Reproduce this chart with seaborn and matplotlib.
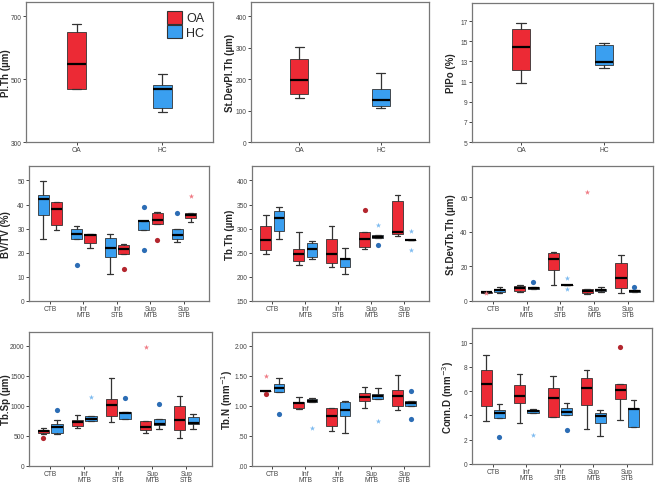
import numpy as np
import matplotlib
matplotlib.use("Agg")
import matplotlib.pyplot as plt
import seaborn as sns
from matplotlib.patches import Patch
from matplotlib.ticker import FuncFormatter

RED = "#ec2a35"
BLUE = "#3a9ff0"
RED_DOT = "#b3262e"
BLUE_DOT = "#2c6db5"
RED_STAR = "#f07a84"
BLUE_STAR = "#7dbbf0"

# stats per box: [whislo, q1, median, q3, whishi]
TWO_GROUPS = ["OA", "HC"]
PLTH_OA = [470, 470, 548, 651, 676]
PLTH_HC = [396, 408, 468, 481, 515]
STDEVPLTH_OA = [139, 151, 198, 264, 302]
STDEVPLTH_HC = [109, 116, 135, 170, 218]
PLPO_OA = [10.9, 12.1, 14.4, 16.2, 16.8]
PLPO_HC = [12.35, 12.6, 12.95, 14.6, 14.8]

SITES = ["CTB", "Inf\nMTB", "Inf\nSTB", "Sup\nMTB", "Sup\nSTB"]

BVTV_OA = [[29.3, 31.5, 38.0, 41.0, 41.2], [22.1, 24.2, 27.2, 28.0, 28.0],
           [19.7, 19.7, 21.4, 23.1, 23.6], [31.8, 31.8, 33.4, 36.6, 36.9],
           [32.7, 34.5, 35.5, 36.6, 36.6]]
BVTV_HC = [[25.8, 35.5, 42.5, 43.8, 49.7], [25.6, 25.6, 27.6, 29.7, 31.1],
           [11.1, 18.2, 22.1, 26.0, 27.6], [29.4, 29.4, 33.1, 33.1, 33.1],
           [24.4, 25.8, 27.2, 29.7, 29.7]]
BVTV_OA_OUT = [[], [], [13.1], [25.1], []]
BVTV_HC_OUT = [[], [14.8], [], [39.2, 21.3], [36.6]]
BVTV_OA_EXT = [[], [], [], [], [43.5]]
BVTV_HC_EXT = [[], [], [], [], []]

TBTH_OA = [[246.7, 255.7, 275.7, 305.4, 327.5], [224.6, 232.9, 248.0, 258.4, 293.0],
           [221.1, 228.0, 246.7, 279.1, 305.4], [257.0, 262.6, 277.8, 293.0, 293.0],
           [285.0, 288.0, 293.0, 357.0, 369.6]]
TBTH_HC = [[277.8, 295.7, 321.3, 336.5, 345.4], [236.3, 241.8, 258.4, 269.5, 274.3],
           [205.3, 221.1, 236.3, 239.8, 260.5], [280.0, 280.0, 283.5, 286.5, 286.5],
           [276.0, 276.0, 276.5, 277.0, 277.0]]
TBTH_OA_OUT = [[], [], [], [338.5], []]
TBTH_HC_OUT = [[], [], [], [265.3], []]
TBTH_OA_EXT = [[], [], [], [], []]
TBTH_HC_EXT = [[], [], [], [306.8], [296.0, 255.0]]

SDTBTH_OA = [[4.8, 4.8, 5.1, 5.4, 5.4], [5.4, 5.8, 7.7, 8.7, 9.3],
             [9.1, 17.8, 24.4, 27.7, 28.4], [4.3, 4.8, 5.6, 7.2, 7.2],
             [4.8, 7.7, 13.4, 21.9, 26.7]]
SDTBTH_HC = [[4.8, 5.4, 6.4, 7.2, 8.1], [6.8, 6.8, 7.7, 8.1, 8.1],
             [9.3, 9.3, 9.3, 9.3, 9.3], [5.4, 5.8, 6.4, 7.2, 8.1],
             [5.4, 5.4, 5.8, 6.4, 6.4]]
SDTBTH_OA_OUT = [[], [], [], [], []]
SDTBTH_HC_OUT = [[], [11.0], [], [], [8.1]]
SDTBTH_OA_EXT = [[4.6], [], [], [62.9], []]
SDTBTH_HC_EXT = [[], [], [13.5, 7.2], [], []]

TBSP_OA = [[539, 556, 578, 594, 633], [633, 661, 728, 761, 844],
           [739, 839, 1011, 1122, 1461], [550, 606, 650, 750, 750],
           [467, 594, 761, 1006, 1161]]
TBSP_HC = [[528, 556, 650, 706, 761], [744, 744, 789, 833, 833],
           [778, 778, 889, 894, 894], [617, 678, 694, 789, 789],
           [617, 694, 717, 817, 872]]
TBSP_OA_OUT = [[472], [], [], [], []]
TBSP_HC_OUT = [[928], [], [1128], [1039], []]
TBSP_OA_EXT = [[], [], [], [1983], []]
TBSP_HC_EXT = [[], [1150], [], [], []]

TBN_OA = [[1.24, 1.24, 1.25, 1.25, 1.25], [0.956, 0.972, 1.05, 1.067, 1.15],
          [0.578, 0.661, 0.828, 0.972, 0.972], [0.972, 1.078, 1.15, 1.217, 1.32],
          [0.939, 0.994, 1.167, 1.261, 1.511]]
TBN_HC = [[1.239, 1.239, 1.30, 1.361, 1.472], [1.072, 1.072, 1.083, 1.111, 1.139],
          [0.55, 0.833, 0.939, 1.061, 1.083], [1.122, 1.122, 1.167, 1.194, 1.294],
          [0.994, 0.994, 1.05, 1.083, 1.083]]
TBN_OA_OUT = [[1.194], [], [], [], []]
TBN_HC_OUT = [[0.872], [], [], [], [1.25, 0.778]]
TBN_OA_EXT = [[1.494], [], [], [], []]
TBN_HC_EXT = [[], [0.633], [], [0.744], []]

CONND_OA = [[3.58, 4.74, 6.61, 7.71, 8.95], [3.39, 5.04, 5.59, 6.53, 7.44],
            [3.91, 3.91, 5.43, 6.25, 7.25], [2.89, 4.88, 6.25, 7.08, 7.71],
            [3.66, 5.37, 6.12, 6.58, 6.58]]
CONND_HC = [[3.77, 3.77, 4.21, 4.41, 4.96], [4.21, 4.21, 4.33, 4.41, 4.55],
            [4.05, 4.05, 4.27, 4.60, 5.04], [2.29, 3.39, 3.94, 4.21, 4.41],
            [3.03, 3.03, 4.49, 4.60, 5.23]]
CONND_OA_OUT = [[], [], [], [], [9.61]]
CONND_HC_OUT = [[2.26], [], [2.76], [], []]
CONND_OA_EXT = [[], [], [], [], []]
CONND_HC_EXT = [[], [2.40], [], [], []]

W, H = 658, 485


def pix_axes(fig, l, t, r, b, label_x):
    ax = fig.add_axes([l / W, 1 - b / H, (r - l) / W, (b - t) / H])
    # y label anchored (by its right edge) at a fixed pixel column
    ax.yaxis.set_label_coords((label_x - l) / (r - l), 0.5)
    return ax


def draw_box(ax, pos, s, color, width):
    st = dict(whislo=s[0], q1=s[1], med=s[2], q3=s[3], whishi=s[4], fliers=[])
    ax.bxp([st], positions=[pos], widths=width, patch_artist=True,
           showfliers=False, manage_ticks=False,
           boxprops=dict(facecolor=color, edgecolor="#333333", linewidth=0.6),
           medianprops=dict(color="black", linewidth=1.6),
           whiskerprops=dict(color="#333333", linewidth=0.9),
           capprops=dict(color="#333333", linewidth=0.9),
           capwidths=width * 0.5)


def draw_outliers(ax, pos, out, ext, dot, star):
    if out:
        ax.scatter([pos] * len(out), out, s=14, marker="o", color=dot,
                   linewidths=0, zorder=5)
    if ext:
        ax.scatter([pos] * len(ext), ext, s=16, marker="*", color=star,
                   linewidths=0, zorder=5)


def style_axes(ax, ylim, yticks, ylabel, xlim, xticks, xlabels, fmt=None):
    ax.set_xlim(*xlim)
    ax.set_ylim(*ylim)
    ax.set_yticks(yticks)
    if fmt is not None:
        ax.yaxis.set_major_formatter(FuncFormatter(fmt))
    ax.set_xticks(xticks)
    ax.set_xticklabels(xlabels, fontsize=4.8, color="#444444", linespacing=0.8)
    ax.tick_params(axis="y", labelsize=4.8, labelcolor="#444444", length=2.5,
                   width=0.6, direction="out", left=True, pad=0.6)
    ax.tick_params(axis="x", length=2.2, width=0.6, direction="out",
                   bottom=True, pad=0.6)
    ax.set_ylabel(ylabel, fontsize=7, fontweight="bold")
    for sp in ax.spines.values():
        sp.set_color("#777777")
        sp.set_linewidth(0.9)


def two_group_panel(ax, oa, hc, ylim, yticks, ylabel):
    draw_box(ax, 1, oa, RED, 0.22)
    draw_box(ax, 2, hc, BLUE, 0.22)
    style_axes(ax, ylim, yticks, ylabel, (0.41, 2.59), [1, 2], TWO_GROUPS)


def site_panel(ax, first, second, ylim, yticks, ylabel, fmt=None):
    # first/second: (stats, circles, asterisks, colour, dot, star)
    for off, (stats, out, ext, col, dot, star) in zip((-0.2, 0.2), (first, second)):
        for i in range(len(SITES)):
            draw_box(ax, i + off, stats[i], col, 0.33)
            draw_outliers(ax, i + off, out[i], ext[i], dot, star)
    style_axes(ax, ylim, yticks, ylabel, (-0.62, 4.75),
               range(len(SITES)), SITES, fmt)


sns.set_style("white")
plt.rcParams["font.family"] = ["Liberation Sans", "DejaVu Sans"]

fig = plt.figure(figsize=(6.58, 4.85), dpi=100)

ax1 = pix_axes(fig, 26, 3, 213, 143, 11)
two_group_panel(ax1, PLTH_OA, PLTH_HC, (300, 745), [300, 500, 700], "Pl.Th (µm)")
ax1.legend(handles=[Patch(facecolor=RED, edgecolor="#333333", lw=0.8, label="OA"),
                    Patch(facecolor=BLUE, edgecolor="#333333", lw=0.8, label="HC")],
           loc="upper right", frameon=False, fontsize=9, handlelength=1.2,
           handleheight=1.2, handletextpad=0.3, labelspacing=0.05,
           borderaxespad=0.3)

ax2 = pix_axes(fig, 251, 3, 429, 143, 235)
two_group_panel(ax2, STDEVPLTH_OA, STDEVPLTH_HC, (0, 445), [0, 100, 200, 300, 400],
                "St.DevPl.Th (µm)")

ax3 = pix_axes(fig, 472, 4, 653, 143, 456)
two_group_panel(ax3, PLPO_OA, PLPO_HC, (5, 18.8), [5, 7, 9, 11, 13, 15, 17], "PlPo (%)")

ax4 = pix_axes(fig, 29, 167, 209, 302, 11)
site_panel(ax4, (BVTV_HC, BVTV_HC_OUT, BVTV_HC_EXT, BLUE, BLUE_DOT, BLUE_STAR),
           (BVTV_OA, BVTV_OA_OUT, BVTV_OA_EXT, RED, RED_DOT, RED_STAR),
           (0, 56), [0, 10, 20, 30, 40, 50], "BV/TV (%)")

ax5 = pix_axes(fig, 252, 167, 429, 302, 235)
site_panel(ax5, (TBTH_OA, TBTH_OA_OUT, TBTH_OA_EXT, RED, RED_DOT, RED_STAR),
           (TBTH_HC, TBTH_HC_OUT, TBTH_HC_EXT, BLUE, BLUE_DOT, BLUE_STAR),
           (150, 430), [150, 200, 250, 300, 350, 400], "Tb.Th (µm)")

ax6 = pix_axes(fig, 472, 167, 653, 302, 456)
site_panel(ax6, (SDTBTH_OA, SDTBTH_OA_OUT, SDTBTH_OA_EXT, RED, RED_DOT, RED_STAR),
           (SDTBTH_HC, SDTBTH_HC_OUT, SDTBTH_HC_EXT, BLUE, BLUE_DOT, BLUE_STAR),
           (0, 78), [0, 20, 40, 60], "St.DevTb.Th (µm)")

ax7 = pix_axes(fig, 29, 333, 212, 467, 11)
site_panel(ax7, (TBSP_OA, TBSP_OA_OUT, TBSP_OA_EXT, RED, RED_DOT, RED_STAR),
           (TBSP_HC, TBSP_HC_OUT, TBSP_HC_EXT, BLUE, BLUE_DOT, BLUE_STAR),
           (0, 2230), [0, 500, 1000, 1500, 2000], "Tb.Sp (µm)")

ax8 = pix_axes(fig, 252, 333, 429, 467, 235)
site_panel(ax8, (TBN_OA, TBN_OA_OUT, TBN_OA_EXT, RED, RED_DOT, RED_STAR),
           (TBN_HC, TBN_HC_OUT, TBN_HC_EXT, BLUE, BLUE_DOT, BLUE_STAR),
           (0, 2.23), [0, 0.5, 1.0, 1.5, 2.0], "Tb.N (mm$^{-1}$)",
           fmt=lambda v, p: f"{v:.2f}".lstrip("0") if v < 1 else f"{v:.2f}")

ax9 = pix_axes(fig, 472, 329, 652, 465, 456)
site_panel(ax9, (CONND_OA, CONND_OA_OUT, CONND_OA_EXT, RED, RED_DOT, RED_STAR),
           (CONND_HC, CONND_HC_OUT, CONND_HC_EXT, BLUE, BLUE_DOT, BLUE_STAR),
           (0, 11.2), [0, 2, 4, 6, 8, 10], "Conn.D (mm$^{-3}$)")

fig.savefig("out.png", dpi=100)
